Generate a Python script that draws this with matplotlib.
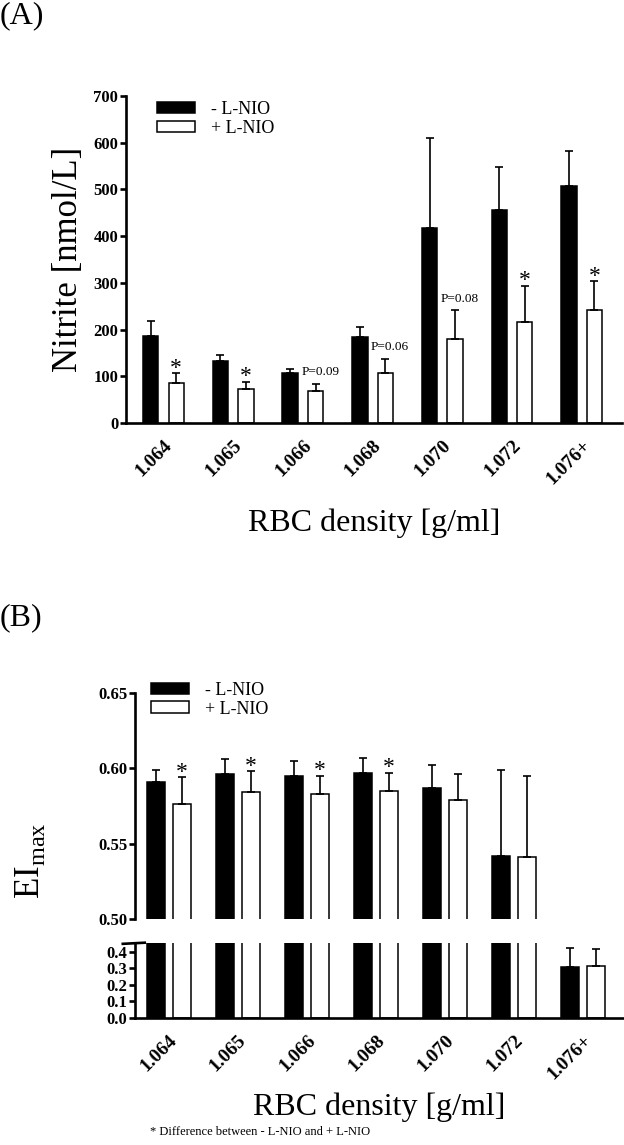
import numpy as np
import matplotlib.pyplot as plt

plt.rcParams['font.family'] = ['Liberation Serif', 'DejaVu Serif']
plt.rcParams['mathtext.fontset'] = 'custom'
plt.rcParams['mathtext.rm'] = 'Liberation Serif'

# data
density = ['1.064', '1.065', '1.066', '1.068', '1.070', '1.072', '1.076+']

nitrite_ctrl = [186, 132, 106, 184, 418, 456, 508]
nitrite_ctrl_sd = [32, 14, 10, 22, 192, 92, 74]
nitrite_lnio = [86, 72, 68, 106, 179, 216, 241]
nitrite_lnio_sd = [20, 16, 16, 31, 62, 78, 63]
nitrite_marks = ['*', '*', 'P=0.09', 'P=0.06', 'P=0.08', '*', '*']

ei_ctrl = [0.591, 0.596, 0.595, 0.597, 0.587, 0.542, 0.309]
ei_ctrl_sd = [0.008, 0.010, 0.010, 0.010, 0.015, 0.057, 0.111]
ei_lnio = [0.576, 0.584, 0.583, 0.585, 0.579, 0.541, 0.317]
ei_lnio_sd = [0.018, 0.014, 0.012, 0.012, 0.017, 0.054, 0.098]
ei_marks = ['*', '*', '*', '*', '', '', '']

W, H = 624, 1145
fig = plt.figure(figsize=(W / 100, H / 100), dpi=100)


def px_axes(x0, x1, y0, y1):
    # pixel box (top-left origin) -> figure fraction
    return fig.add_axes([x0 / W, 1 - y1 / H, (x1 - x0) / W, (y1 - y0) / H])


def style_axes(ax, bottom=True):
    for s in ['top', 'right']:
        ax.spines[s].set_visible(False)
    ax.spines['left'].set_linewidth(1.9)
    ax.spines['bottom'].set_linewidth(1.9)
    if not bottom:
        ax.spines['bottom'].set_visible(False)
    ax.tick_params(axis='y', direction='out', length=4.5, width=1.9, pad=1,
                   labelsize=12)
    ax.tick_params(axis='x', length=0, pad=10)
    for lab in ax.get_yticklabels():
        lab.set_fontweight('bold')


def draw_bars(ax, m1, s1, m2, s2, width, off):
    x = np.arange(len(density))
    err_kw = dict(elinewidth=1.2, capsize=3, capthick=1.2, ecolor='black')
    b1 = ax.bar(x - off, m1, width, color='black', edgecolor='black',
                linewidth=1.1, yerr=[np.zeros(len(m1)), s1],
                error_kw=err_kw, label='- L-NIO')
    b2 = ax.bar(x + off, m2, width, color='white', edgecolor='black',
                linewidth=1.1, yerr=[np.zeros(len(m2)), s2],
                error_kw=err_kw, label='+ L-NIO')
    return x, b1, b2


# ---------------- panel A ----------------
axA = px_axes(126, 622, 96, 423)
xA, b1, b2 = draw_bars(axA, nitrite_ctrl, nitrite_ctrl_sd,
                       nitrite_lnio, nitrite_lnio_sd, 0.22, 0.183)
axA.set_xlim(-0.538, 6.578)
axA.set_ylim(0, 700)
axA.set_yticks(np.arange(0, 701, 100))
axA.set_xticks(xA)
axA.set_xticklabels(density, rotation=45, ha='right', va='top',
                    rotation_mode='anchor', fontweight='bold', fontsize=14)
style_axes(axA)
axA.set_ylabel('Nitrite [nmol/L]', fontsize=25, labelpad=6)
axA.set_xlabel('RBC density [g/ml]', fontsize=23, labelpad=15)
for i, mk in enumerate(nitrite_marks):
    top = nitrite_lnio[i] + nitrite_lnio_sd[i]
    if mk == '*':
        axA.annotate('*', (xA[i] + 0.183, top), xytext=(0, -4),
                     textcoords='offset points', ha='center', va='bottom',
                     fontsize=17)
    else:
        axA.annotate(mk, (xA[i] + 0.25, top), xytext=(0, 4),
                     textcoords='offset points', ha='center', va='bottom',
                     fontsize=9.5)
axA.legend(frameon=False, loc='upper left', bbox_to_anchor=(0.03, 1.035),
           fontsize=13, handlelength=2.1, handleheight=0.6,
           labelspacing=0.1, handletextpad=0.9)

# ---------------- panel B (broken axis) ----------------
axB = px_axes(135, 623, 692.7, 919.3)
axB2 = px_axes(135, 623, 942.7, 1018)
for ax in (axB, axB2):
    xB, c1, c2 = draw_bars(ax, ei_ctrl, ei_ctrl_sd, ei_lnio, ei_lnio_sd,
                           0.26, 0.188)
    ax.set_xlim(-0.488, 6.58)
axB.set_ylim(0.50, 0.65)
axB.set_yticks([0.50, 0.55, 0.60, 0.65])
axB.set_yticklabels(['0.50', '0.55', '0.60', '0.65'])
axB.set_xticks([])
style_axes(axB, bottom=False)
axB2.set_ylim(0, 0.455)
axB2.set_yticks([0.0, 0.1, 0.2, 0.3, 0.4])
axB2.set_yticklabels(['0.0', '0.1', '0.2', '0.3', '0.4'])
axB2.set_xticks(xB)
axB2.set_xticklabels(density, rotation=45, ha='right', va='top',
                     rotation_mode='anchor', fontweight='bold', fontsize=14)
style_axes(axB2)
axB2.set_xlabel('RBC density [g/ml]', fontsize=23, labelpad=7)
axB2.plot([-0.025, 0.02], [0.985, 1.0], transform=axB2.transAxes,
          color='black', lw=1.9, clip_on=False)
for i, mk in enumerate(ei_marks):
    if mk:
        top = ei_lnio[i] + ei_lnio_sd[i]
        axB.annotate('*', (xB[i] + 0.188, top), xytext=(0, -4),
                     textcoords='offset points', ha='center', va='bottom',
                     fontsize=17)
axB.legend(frameon=False, loc='upper left', bbox_to_anchor=(0.0, 1.12),
           fontsize=13, handlelength=2.1, handleheight=0.6,
           labelspacing=0.1, handletextpad=0.9)

fig.text(30 / W, 1 - 861 / H, r'EI$_{\mathregular{max}}$', rotation=90,
         ha='center', va='center', fontsize=25)

fig.text(0, 1 - 1 / H, '(A)', ha='left', va='top', fontsize=23)
fig.text(0, 1 - 603 / H, '(B)', ha='left', va='top', fontsize=23)
fig.text(150 / W, 1 - 1132 / H, '* Difference between - L-NIO and + L-NIO',
         ha='left', va='center', fontsize=9)

fig.savefig('out.png', dpi=100)
